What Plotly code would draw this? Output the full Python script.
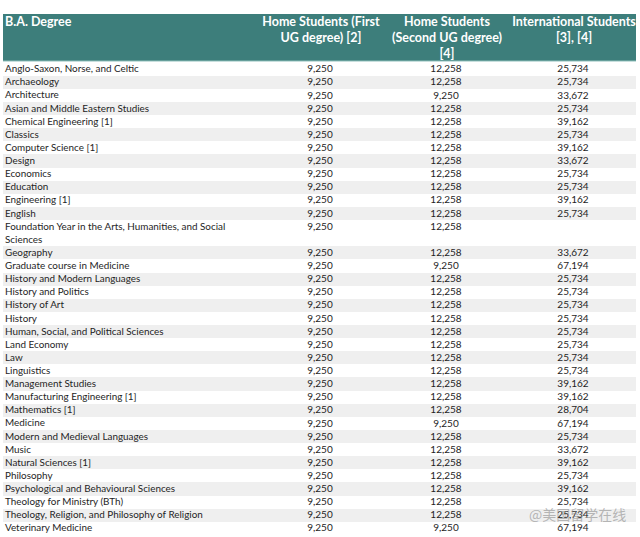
import plotly.graph_objects as go

degrees = [
    "Anglo-Saxon, Norse, and Celtic", "Archaeology", "Architecture",
    "Asian and Middle Eastern Studies", "Chemical Engineering [1]", "Classics",
    "Computer Science [1]", "Design", "Economics", "Education",
    "Engineering [1]", "English",
    "Foundation Year in the Arts, Humanities, and Social<br>Sciences",
    "Geography", "Graduate course in Medicine", "History and Modern Languages",
    "History and Politics", "History of Art", "History",
    "Human, Social, and Political Sciences", "Land Economy", "Law",
    "Linguistics", "Management Studies", "Manufacturing Engineering [1]",
    "Mathematics [1]", "Medicine", "Modern and Medieval Languages", "Music",
    "Natural Sciences [1]", "Philosophy", "Psychological and Behavioural Sciences",
    "Theology for Ministry (BTh)", "Theology, Religion, and Philosophy of Religion",
    "Veterinary Medicine",
]
home_first = ["9,250"] * 35
home_second = [
    "12,258", "12,258", "9,250", "12,258", "12,258", "12,258", "12,258", "12,258",
    "12,258", "12,258", "12,258", "12,258", "12,258", "12,258", "9,250", "12,258",
    "12,258", "12,258", "12,258", "12,258", "12,258", "12,258", "12,258", "12,258",
    "12,258", "12,258", "9,250", "12,258", "12,258", "12,258", "12,258", "12,258",
    "12,258", "12,258", "9,250",
]
international = [
    "25,734", "25,734", "33,672", "25,734", "39,162", "25,734", "39,162", "33,672",
    "25,734", "25,734", "39,162", "25,734", "", "33,672", "67,194", "25,734",
    "25,734", "25,734", "25,734", "25,734", "25,734", "25,734", "25,734", "39,162",
    "39,162", "28,704", "67,194", "25,734", "33,672", "39,162", "25,734", "39,162",
    "25,734", "25,734", "67,194",
]
headers = [
    "B.A. Degree",
    "Home Students (First<br>UG degree) [2]",
    "Home Students<br>(Second UG degree)<br>[4]",
    "International Students<br>[3], [4]",
]

# ---- layout geometry (pixel units on hidden axes) ----
W, H = 640, 537
TABLE_L, TABLE_R = 3, 636
HEAD_T, HEAD_B = 14, 61
BODY_T = 63.2
PITCH = 13.12
col_x = [5, 320, 446, 573]
TEAL = "#3d7e7b"
GREY = "#efefef"
FONT = "Lato, Open Sans, sans-serif"

n_lines = [d.count("<br>") + 1 for d in degrees]
centres, heights = [], []
cum = 0
for n in n_lines:
    top = BODY_T + cum * PITCH
    centres.append(top + n * PITCH / 2)
    heights.append(n * PITCH)
    cum += n
single_centres = [BODY_T + (sum(n_lines[:i]) + 0.5) * PITCH for i in range(len(degrees))]

grey_idx = [i for i in range(len(degrees)) if i % 2 == 1]

fig = go.Figure()

fig.add_trace(go.Bar(
    orientation="h",
    y=[centres[i] - 0.6 for i in grey_idx],
    x=[TABLE_R - TABLE_L] * len(grey_idx),
    base=TABLE_L,
    width=[heights[i] for i in grey_idx],
    marker=dict(color=GREY, line=dict(width=0)),
    hoverinfo="skip", showlegend=False,
))

fig.add_shape(type="rect", x0=TABLE_L, x1=TABLE_R, y0=HEAD_T, y1=HEAD_B,
              fillcolor=TEAL, line=dict(width=0), layer="below")
fig.add_shape(type="line", x0=TABLE_L, x1=TABLE_R, y0=HEAD_B, y1=HEAD_B,
              line=dict(color="#8fbfbc", width=1.2))

for j, h in enumerate(headers):
    nl = h.count("<br>") + 1
    fig.add_trace(go.Scatter(
        x=[col_x[j] if j == 0 else col_x[j] + 1], y=[HEAD_T + 1.5 + nl * 15.5 / 2],
        mode="text", text=[f"<b>{h}</b>"],
        textposition="middle right" if j == 0 else "middle center",
        textfont=dict(family=FONT, size=12.5, color="white"),
        hoverinfo="skip", showlegend=False, cliponaxis=False,
    ))

fig.add_trace(go.Scatter(
    x=[col_x[0]] * len(degrees), y=centres, mode="text", text=degrees,
    textposition="middle right",
    textfont=dict(family=FONT, size=9.9, color="#1e1e1e"),
    hoverinfo="skip", showlegend=False, cliponaxis=False,
))
for j, col in enumerate([home_first, home_second, international], start=1):
    fig.add_trace(go.Scatter(
        x=[col_x[j]] * len(col), y=single_centres, mode="text", text=col,
        textposition="middle center",
        textfont=dict(family=FONT, size=10, color="#1e1e1e"),
        hoverinfo="skip", showlegend=False, cliponaxis=False,
    ))

fig.add_annotation(
    text="@美国留学在线", x=628, y=514, xref="x", yref="y",
    xanchor="right", yanchor="middle", showarrow=False,
    font=dict(family="Noto Sans CJK SC", size=14, color="rgba(140,140,140,0.6)"),
)

fig.update_xaxes(range=[0, W], visible=False, fixedrange=True)
fig.update_yaxes(range=[H, 0], visible=False, fixedrange=True)
fig.update_layout(
    width=W, height=H,
    margin=dict(l=0, r=0, t=0, b=0),
    paper_bgcolor="white", plot_bgcolor="white",
    bargap=0,
)
fig.write_html(
    "out.html",
    config={"displayModeBar": False},
    post_script="document.body.style.margin='0';document.body.style.overflow='hidden';",
)
